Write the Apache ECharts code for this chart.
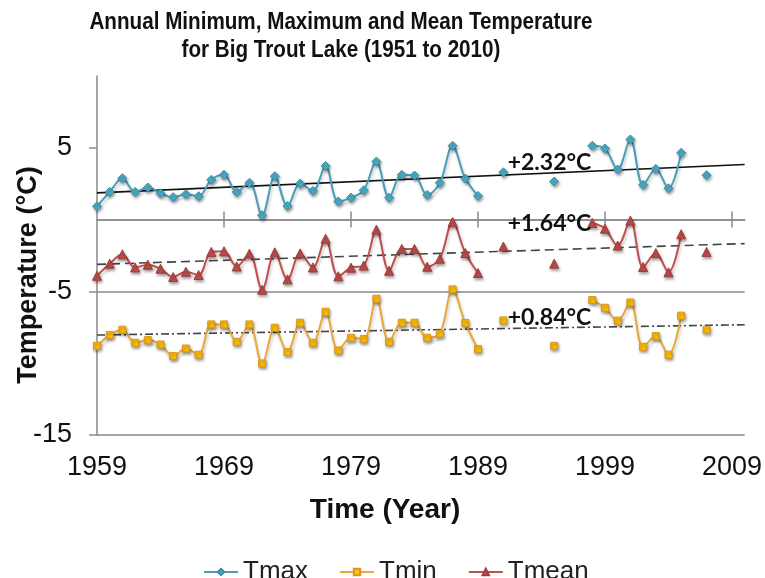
<!DOCTYPE html>
<html>
<head>
<meta charset="utf-8">
<script src="https://cdn.jsdelivr.net/npm/echarts@6/dist/echarts.min.js"></script>
<style>
html,body{margin:0;padding:0;background:#fff;}
#chart{width:765px;height:578px;}
</style>
</head>
<body>
<div id="chart"></div>
<script>
// ---- data ----
var years = [1959,1960,1961,1962,1963,1964,1965,1966,1967,1968,1969,1970,1971,1972,1973,1974,1975,1976,1977,1978,1979,1980,1981,1982,1983,1984,1985,1986,1987,1988,1989,1990,1991,1992,1993,1994,1995,1996,1997,1998,1999,2000,2001,2002,2003,2004,2005,2006,2007];
var tmax  = [0.93,1.93,2.88,1.93,2.23,1.83,1.56,1.77,1.63,2.77,3.12,1.93,2.56,0.30,3.02,0.94,2.51,2.00,3.74,1.26,1.53,2.04,4.04,1.53,3.12,3.07,1.72,2.56,5.14,2.86,1.65,null,3.29,null,null,null,2.65,null,null,5.14,4.95,3.49,5.58,2.42,3.53,2.18,4.65,null,3.09];
var tmin  = [-8.79,-8.04,-7.67,-8.58,-8.39,-8.70,-9.50,-8.98,-9.41,-7.30,-7.30,-8.51,-7.30,-10.02,-7.53,-9.22,-7.18,-8.58,-6.42,-9.11,-8.23,-8.32,-5.51,-8.51,-7.18,-7.18,-8.23,-7.95,-4.86,-7.20,-9.02,null,-7.02,null,null,null,-8.79,null,null,-5.60,-6.14,-7.04,-5.77,-8.86,-8.11,-9.41,-6.69,null,-7.67];
var tmean = [-3.91,-3.07,-2.42,-3.33,-3.14,-3.42,-4.00,-3.63,-3.86,-2.25,-2.21,-3.26,-2.37,-4.88,-2.28,-4.16,-2.35,-3.33,-1.33,-3.95,-3.35,-3.20,-0.70,-3.56,-2.04,-2.04,-3.28,-2.72,-0.16,-2.33,-3.72,null,-1.88,null,null,null,-3.07,null,null,-0.23,-0.63,-1.81,-0.07,-3.30,-2.33,-3.67,-1.02,null,-2.25];
// linear trend end points (years and values)
var trendYears = [1959, 2010];
var tmaxTrend  = [1.86, 3.84];
var tmeanTrend = [-3.12, -1.67];
var tminTrend  = [-8.04, -7.32];
var trendLabels = ['+2.32°C', '+1.64°C', '+0.84°C'];
var trendLabelPos = [[1991.3, 3.97], [1991.3, -0.26], [1991.3, -6.85]];
var xTicks = [1959, 1969, 1979, 1989, 1999, 2009];
var zeroLineTicks = [1969, 1979, 1989, 1999, 2009];
var yTicks = [-15, -5, 5];

function pairs(xs, ys){ return xs.map(function(x,i){ return [x, ys[i]]; }); }

var chart = echarts.init(document.getElementById('chart'), null, {renderer:'canvas'});
var axisGray = '#8a8a8a';
var baseFont = "'Liberation Sans', Arial, sans-serif";

function trendSeries(name, vals, type, color, labelText, labelPos){
  return {
    name: name, type: 'line', data: pairs(trendYears, vals),
    showSymbol: false, silent: true, z: 1,
    lineStyle: {color: color, width: 1.6, type: type},
    markPoint: {
      symbol: 'circle', symbolSize: 1, silent: true,
      itemStyle: {color: 'rgba(0,0,0,0)'},
      data: [{coord: labelPos, value: labelText}],
      label: {show: true, formatter: labelText, position: 'right', distance: 0,
        fontFamily: "Lato, 'Open Sans', sans-serif", fontWeight: 'bold', fontSize: 23, color: '#111'}
    }
  };
}

var markerShadow = {shadowColor:'rgba(0,0,0,0.35)', shadowBlur:3, shadowOffsetX:1, shadowOffsetY:2};
var lineShadow = {shadowColor:'rgba(0,0,0,0.22)', shadowBlur:3, shadowOffsetX:1, shadowOffsetY:3};

var option = {
  animation: false,
  backgroundColor: '#fff',
  grid: {left: 97, right: 19, top: 76, bottom: 143, containLabel: false},
  graphic: [
    {type:'text', x:341, y: 8, z: 10, scaleX: 0.86,
     style:{text:'Annual Minimum, Maximum and Mean Temperature\nfor Big Trout Lake (1951 to 2010)',
       textAlign:'center', fill:'#111', lineHeight: 28,
       font: "bold 24px 'Liberation Sans', Arial, sans-serif"}},
    {type:'text', x: 29, y: 275, rotation: Math.PI/2, z: 10,
     style:{text:'Temperature (°C)', textAlign:'center', textVerticalAlign:'middle', fill:'#111',
       font: "bold 27px " + baseFont}},
    {type:'text', x: 385, y: 510, z: 10,
     style:{text:'Time (Year)', textAlign:'center', textVerticalAlign:'middle', fill:'#111',
       font: "bold 28px " + baseFont}}
  ],
  legend: {
    data: ['Tmax','Tmin','Tmean'],
    left: 198, top: 554, itemWidth: 34, itemHeight: 8, itemGap: 31,
    textStyle: {fontFamily: baseFont, fontSize: 26, color: '#222'}
  },
  xAxis: [
    {type:'value', min:1959, max:2010, interval:10, position:'bottom',
     axisLine:{show:false, onZero:false}, axisTick:{show:false}, splitLine:{show:false},
     axisLabel:{customValues: xTicks, formatter: function(v){ return String(v); },
       fontFamily: baseFont, fontSize:27, color:'#111', margin: 19}},
    {type:'value', min:1959, max:2010, interval:10, position:'bottom',
     axisLine:{show:true, onZero:true, onZeroAxisIndex:0, lineStyle:{color:axisGray, width:1.5}},
     axisTick:{show:true, inside:true, length:8, customValues: zeroLineTicks, lineStyle:{color:axisGray, width:1.5}},
     axisLabel:{show:false}, splitLine:{show:false}},
    {type:'value', min:1959, max:2010, interval:10, position:'top',
     axisLine:{show:true, onZero:true, onZeroAxisIndex:1, lineStyle:{color:axisGray, width:1.5}},
     axisTick:{show:true, inside:true, length:8, customValues: zeroLineTicks, lineStyle:{color:axisGray, width:1.5}},
     axisLabel:{show:false}, splitLine:{show:false}}
  ],
  yAxis: [
    {type:'value', min:-15, max:10, interval:10,
     axisLine:{show:true, onZero:false, lineStyle:{color:axisGray, width:1.5}},
     axisTick:{show:true, length:8, customValues: yTicks, lineStyle:{color:axisGray, width:1.5}},
     axisLabel:{customValues: yTicks, fontFamily: baseFont, fontSize:27, color:'#111', margin: 25},
     splitLine:{show:true, showMaxLine:false, showMinLine:true, lineStyle:{color:axisGray, width:1.5}}},
    {type:'value', min:-15, max:10, interval:10, position:'right',
     axisLine:{show:false, onZero:false}, axisTick:{show:false}, axisLabel:{show:false}, splitLine:{show:false}}
  ],
  series: [
    trendSeries('TmaxTrend', tmaxTrend, 'solid', '#111', trendLabels[0], trendLabelPos[0]),
    trendSeries('TmeanTrend', tmeanTrend, [9,5], '#444', trendLabels[1], trendLabelPos[1]),
    trendSeries('TminTrend', tminTrend, [8,3,2,3], '#444', trendLabels[2], trendLabelPos[2]),
    {name:'Tmax', type:'line', data: pairs(years, tmax), smooth:0.35, connectNulls:false,
     symbol:'diamond', symbolSize:9, showAllSymbol:true, z:3,
     lineStyle:Object.assign({color:'#4A9DB6', width:2}, lineShadow),
     itemStyle:Object.assign({color:'#4BACC6', borderColor:'#3C8FA6', borderWidth:1}, markerShadow)},
    {name:'Tmin', type:'line', data: pairs(years, tmin), smooth:0.35, connectNulls:false,
     symbol:'rect', symbolSize:7, showAllSymbol:true, z:3,
     lineStyle:Object.assign({color:'#E8A93A', width:2}, lineShadow),
     itemStyle:Object.assign({color:'#FFC000', borderColor:'#D8952A', borderWidth:1}, markerShadow)},
    {name:'Tmean', type:'line', data: pairs(years, tmean), smooth:0.35, connectNulls:false,
     symbol:'triangle', symbolSize:9, showAllSymbol:true, z:3,
     lineStyle:Object.assign({color:'#C0504D', width:2}, lineShadow),
     itemStyle:Object.assign({color:'#C0504D', borderColor:'#A03C3A', borderWidth:1}, markerShadow)}
  ]
};
chart.setOption(option);
</script>
</body>
</html>
